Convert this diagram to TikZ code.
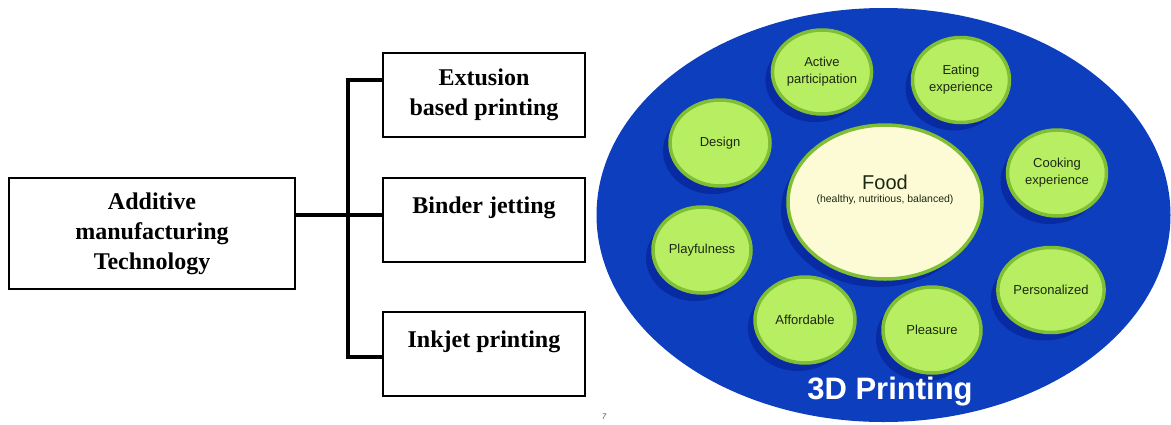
\documentclass[tikz,border=0pt]{standalone}
\usepackage{fontspec}
\setmainfont{Liberation Serif}
\setsansfont{Liberation Sans}
\usetikzlibrary{shadows}
\definecolor{ovalblue}{RGB}{12,62,190}
\definecolor{leafgreen}{RGB}{184,238,98}
\definecolor{rimgreen}{RGB}{128,190,52}
\definecolor{foodcream}{RGB}{253,251,214}
\definecolor{labelink}{RGB}{28,40,18}
\tikzset{
  techbox/.style={draw=black,line width=1.4pt,minimum width=202pt,minimum height=84pt,
    align=center,font=\bfseries\fontsize{24}{30}\selectfont},
  branch/.style={line width=4pt},
  bubble/.style={ellipse,draw=rimgreen,line width=3.5pt,fill=leafgreen,text=labelink,
    align=center,font=\sffamily\fontsize{13}{17}\selectfont,inner sep=0pt,
    drop shadow={shadow xshift=-7pt,shadow yshift=-8pt,fill=black!60!blue,opacity=.3}},
}
\usetikzlibrary{shapes.geometric}
\begin{document}
\begin{tikzpicture}[x=1pt,y=-1pt]
  \useasboundingbox (0,0) rectangle (1171,424);
  % left: technologies
  \node[techbox,minimum width=286pt,minimum height=111pt] (amt) at (152,233.5) {Additive\\manufacturing\\Technology};
  \node[techbox] (ext) at (484,95) {Extusion\\based printing};
  \node[techbox] (bin) at (484,220) {Binder jetting\\\mbox{}};
  \node[techbox] (ink) at (484,354) {Inkjet printing\\\mbox{}};
  \coordinate (bus) at (348,215);
  \coordinate (bustop) at (348,80);
  \coordinate (busbot) at (348,357);
  \draw[branch] (amt.east |- bus) -- (bin.west |- bus);
  \draw[branch] (ext.west |- bustop) -- (bustop) -- (busbot) -- (ink.west |- busbot);
  \node[font=\sffamily\itshape\fontsize{8}{8}\selectfont,text=black!70] (pg) at (604,417) {7};
  % right: 3D printing
  \fill[ovalblue] (883.5,215) ellipse [x radius=287, y radius=207];
  \node[bubble,minimum width=194pt,minimum height=154pt,fill=foodcream,font=\sffamily] (food) at (885,202)
    {{\fontsize{20}{22}\selectfont Food}\\[1pt]{\fontsize{10.5}{13}\selectfont(healthy, nutritious, balanced)}\\[14pt]\mbox{}};
  \node[bubble,minimum width=94pt,minimum height=84pt] (act) at (822,72) {Active\\participation};
  \node[bubble,minimum width=97pt,minimum height=85pt] (eat) at (961,80) {Eating\\experience};
  \node[bubble,minimum width=100pt,minimum height=86pt] (des) at (720,143) {Design};
  \node[bubble,minimum width=99pt,minimum height=86pt] (cook) at (1057,173) {Cooking\\experience};
  \node[bubble,minimum width=98pt,minimum height=86pt] (play) at (702,250) {Playfulness};
  \node[bubble,minimum width=100pt,minimum height=85pt] (pers) at (1051,290) {Personalized};
  \node[bubble,minimum width=100pt,minimum height=86pt] (aff) at (805,320) {Affordable};
  \node[bubble,minimum width=98pt,minimum height=86pt] (plea) at (932,330) {Pleasure};
  \node[text=white,font=\sffamily\bfseries\fontsize{31}{34}\selectfont] (tdp) at (890,392) {3D Printing};
\end{tikzpicture}
\end{document}
